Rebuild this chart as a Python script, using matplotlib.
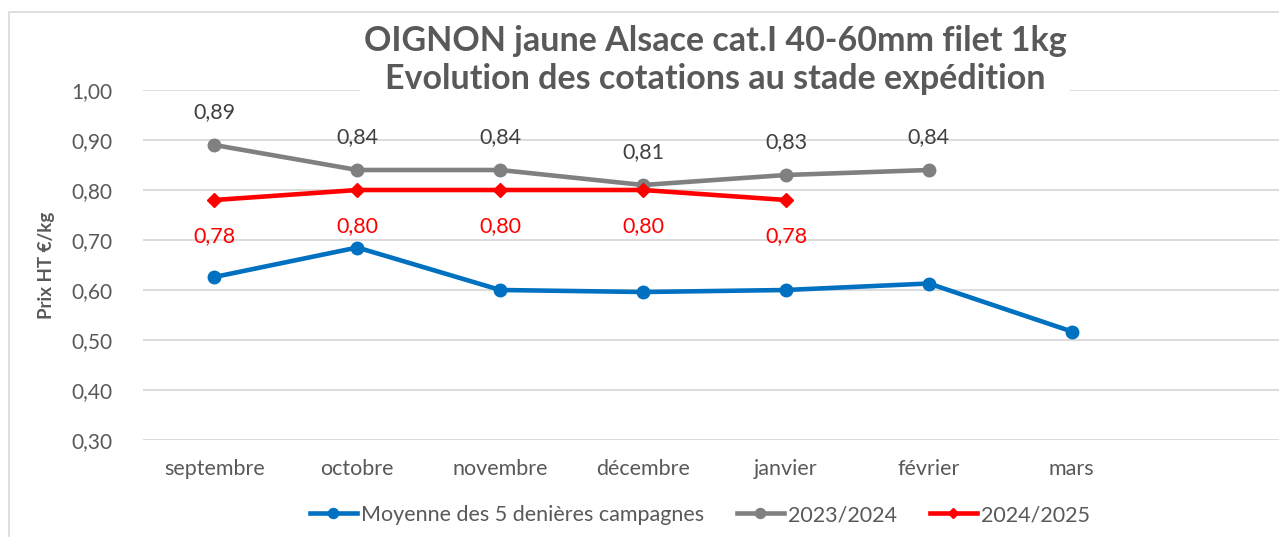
import matplotlib.pyplot as plt
from matplotlib.patches import Rectangle

plt.rcParams['font.family'] = ['Lato', 'DejaVu Sans']

mois = ['septembre', 'octobre', 'novembre', 'décembre', 'janvier', 'février', 'mars']
moyenne = [0.626, 0.685, 0.600, 0.596, 0.600, 0.613, 0.517]
c2023 = [0.89, 0.84, 0.84, 0.81, 0.83, 0.84]
c2024 = [0.78, 0.80, 0.80, 0.80, 0.78]

bleu = '#0070C0'
gris = '#808080'
rouge = '#FF0000'
texte = '#595959'

fig = plt.figure(figsize=(12.79, 5.37), dpi=100)
fig.patches.append(Rectangle((9 / 1279, -0.1), 1.2, 1.1 - 12 / 537,
                             transform=fig.transFigure, fill=False,
                             edgecolor='#d9d9d9', linewidth=1.2))
ax = fig.add_axes([143 / 1279, 1 - 440 / 537, 1 - 143 / 1279, 350 / 537])

ax.plot(range(len(moyenne)), moyenne, color=bleu, lw=3.3, marker='o', ms=9,
        label='Moyenne des 5 denières campagnes', clip_on=False, zorder=3)
ax.plot(range(len(c2023)), c2023, color=gris, lw=3.3, marker='o', ms=9,
        label='2023/2024', clip_on=False, zorder=3)
ax.plot(range(len(c2024)), c2024, color=rouge, lw=3.3, marker='D', ms=7,
        label='2024/2025', clip_on=False, zorder=4)

for i, v in enumerate(c2023):
    ax.annotate(f'{v:.2f}'.replace('.', ','), (i, v), xytext=(0, 24),
                textcoords='offset points', ha='center', va='center',
                fontsize=15.5, color='#404040')
for i, v in enumerate(c2024):
    ax.annotate(f'{v:.2f}'.replace('.', ','), (i, v), xytext=(0, -26),
                textcoords='offset points', ha='center', va='center',
                fontsize=15.5, color=rouge)

ax.set_ylim(0.30, 1.00)
ax.set_xlim(-0.5, 7.45)
yt = [0.30, 0.40, 0.50, 0.60, 0.70, 0.80, 0.90, 1.00]
ax.set_yticks(yt)
ax.set_yticklabels([f'{t:.2f}'.replace('.', ',') for t in yt], fontsize=15, color=texte)
ax.set_xticks(range(len(mois)))
ax.set_xticklabels(mois, fontsize=15.5, color=texte)
ax.tick_params(length=0, pad=14)
ax.tick_params(axis='y', pad=22)
ax.grid(axis='y', color='#d9d9d9', lw=1.3)
ax.set_axisbelow(True)
for s in ax.spines.values():
    s.set_visible(False)

ax.set_ylabel('Prix HT €/kg', fontsize=13.5, fontweight='bold', color=texte, labelpad=12)

fig.text(715 / 1279, 1 - 60 / 537,
         'OIGNON jaune Alsace cat.I 40-60mm filet 1kg\nEvolution des cotations au stade expédition',
         ha='center', va='center', fontsize=24.5, fontweight='bold', color=texte,
         linespacing=1.2,
         bbox=dict(facecolor='white', edgecolor='none', pad=3))

fig.legend(loc='center', bbox_to_anchor=(700 / 1279, 1 - 515 / 537), ncol=3,
           frameon=False, fontsize=15.5, handlelength=2.2, columnspacing=1.5,
           handletextpad=0.2, labelcolor=texte, markerscale=0.8)

fig.savefig('out.png', dpi=100)
